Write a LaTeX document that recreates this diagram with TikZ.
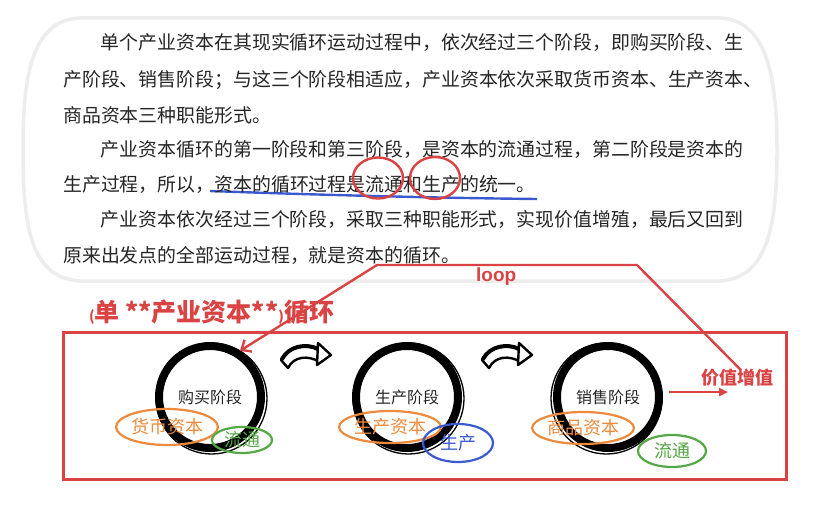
\documentclass[tikz,border=0pt]{standalone}
\usepackage{fontspec}
\setmainfont{Noto Sans CJK SC}
\newfontfamily\latinbold{Liberation Sans}
\usetikzlibrary{arrows.meta,shapes.geometric}
\definecolor{redc}{HTML}{D94343}
\definecolor{orangec}{HTML}{EE8A3C}
\definecolor{greenc}{HTML}{55A845}
\definecolor{bluec}{HTML}{3A5BD0}
\definecolor{txt}{HTML}{262626}
\definecolor{panelgray}{rgb}{0.93,0.93,0.93}
\tikzset{
  para/.style={anchor=west, inner sep=0pt, text=txt, font=\fontsize{18.9}{20}\selectfont},
  ring/.style={circle, draw=black, line width=8pt, minimum size=102pt, inner sep=0pt, text=txt, font=\fontsize{16}{16}\selectfont},
  tag/.style={ellipse, draw=#1, text=#1, line width=2.2pt, inner sep=0pt, font=\fontsize{18}{18}\selectfont},
  hl/.style={ellipse, draw=redc, line width=2.4pt, inner sep=0pt},
  bent/.pic={
    \filldraw[fill=white, draw=black, line width=2.4pt, line join=round]
      (5,22) .. controls (12,8) and (32,5) .. (44,12) -- (44,24)
      .. controls (32,17) and (18,18) .. (12,30) -- cycle;
    \draw[black, line width=4pt, line cap=round] (6,21) .. controls (13,8) and (30,5) .. (42,11);
    \filldraw[fill=white, draw=black, line width=2.4pt, line join=round] (42,5) -- (55,17) -- (41,27) -- cycle;
  }
}
\begin{document}
\begin{tikzpicture}[x=1pt,y=-1pt]
\useasboundingbox (0,0) rectangle (837,516);
\fill[white] (0,0) rectangle (837,516);

% top rounded panel
\draw[draw=panelgray, line width=3.5pt, line join=round]
  (80,18) -- (720,18)
  .. controls (768,20) and (777,80) .. (777,150)
  .. controls (777,225) and (768,278) .. (720,281)
  -- (80,281)
  .. controls (30,278) and (23,225) .. (23,150)
  .. controls (23,80) and (30,20) .. (80,18) -- cycle;

% blue underline
\draw[bluec, line width=2.4pt] (210,191) .. controls (320,195) and (440,198) .. (537,199);

% paragraph lines
\node[para] (l1) at (100.7,43) {单个产业资本在其现实循环运动过程中，依次经过三个阶段，即购买阶段、生};
\node[para] (l2) at (63,80) {产阶段、销售阶段；与这三个阶段相适应，产业资本依次采取货币资本、生产资本、};
\node[para] (l3) at (63,115) {商品资本三种职能形式。};
\node[para] (l4) at (100.7,150) {产业资本循环的第一阶段和第三阶段，是资本的流通过程，第二阶段是资本的};
\node[para] (l5) at (63,185) {生产过程，所以，资本的循环过程是流通和生产的统一。};
\node[para] (l6) at (100.7,220) {产业资本依次经过三个阶段，采取三种职能形式，实现价值增殖，最后又回到};
\node[para] (l7) at (63,255) {原来出发点的全部运动过程，就是资本的循环。};

% red highlight circles
\node[hl, minimum width=50pt, minimum height=41pt] (h1) at (378,178) {};
\node[hl, minimum width=50pt, minimum height=42pt] (h2) at (435,178) {};

% title
\node[anchor=base west, inner sep=0pt, text=redc, font=\fontsize{25}{25}\selectfont\bfseries] (title) at (89,321)
  {{\fontsize{14}{14}\selectfont(}单 **产业资本**{\fontsize{14}{14}\selectfont)}循环};

% red frame
\draw[redc, line width=3pt] (63,332) rectangle (786,479);

% stage rings
\node[ring] (c1) at (210,397) {购买阶段};
\node[ring] (c2) at (407,397) {生产阶段};
\node[ring] (c3) at (608,397) {销售阶段};
\draw[black, line width=1.3pt] ([shift={(1.5,1.5)}]c1.center) circle[radius=55.5];
\draw[black, line width=1.3pt] ([shift={(1.5,1.5)}]c2.center) circle[radius=55.5];
\draw[black, line width=1.3pt] ([shift={(-1.5,1.5)}]c3.center) circle[radius=55.5];

% bent arrows
\pic at (276,338) {bent};
\pic at (477,338) {bent};

% tags
\node[tag=orangec, minimum width=94pt, minimum height=36pt] (t1) at (167,427) {货币资本};
\node[tag=greenc, minimum width=60pt, minimum height=26pt] (t2) at (242,440) {流通};
\node[tag=orangec, minimum width=94pt, minimum height=32pt] (t3) at (390,427) {生产资本};
\node[tag=bluec, minimum width=70pt, minimum height=38pt] (t4) at (458,443) {生产};
\node[tag=orangec, minimum width=90pt, minimum height=32pt] (t5) at (583,428) {商品资本};
\node[tag=greenc, minimum width=68pt, minimum height=32pt] (t6) at (672,451) {流通};

% value increase
\node[inner sep=0pt, text=redc, font=\fontsize{18}{18}\selectfont\bfseries] (vz) at (737,378) {价值增值};
\coordinate (vend) at (728,392);
\draw[redc, line width=2.4pt, -{Triangle[length=9pt,width=8pt]}] ([xshift=6pt]c3.east |- vend) -- (vend);

% loop connector
\coordinate (lA) at (637,265);
\coordinate (lB) at (377,265);
\draw[redc, line width=2.4pt, line join=round, -{Straight Barb[length=8pt,width=14pt]}] ([xshift=4pt,yshift=-1pt]vz.north) -- (lA) -- (lB) -- (c1.57);
\node[anchor=base west, inner sep=0pt, text=redc, font=\latinbold\fontsize{19}{19}\selectfont\bfseries] (lp) at (476,281) {loop};
\end{tikzpicture}
\end{document}
